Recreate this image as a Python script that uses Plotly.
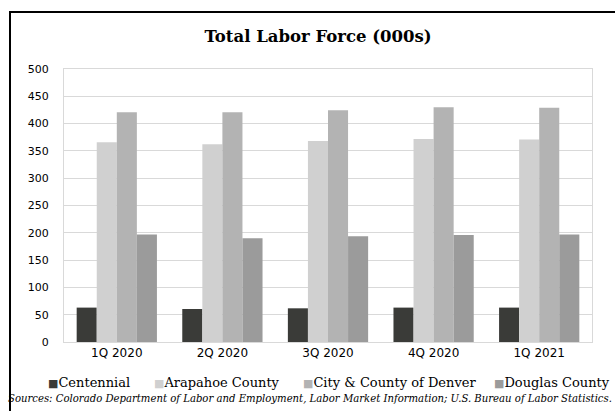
import plotly.graph_objects as go

quarters = ["1Q 2020", "2Q 2020", "3Q 2020", "4Q 2020", "1Q 2021"]
centennial = [63, 60.5, 61.7, 63, 63]
arapahoe = [365.7, 362, 368, 371.8, 370.7]
denver = [420.7, 420.7, 424.4, 430, 429]
douglas = [197, 190, 193.6, 196, 197]

names = ["Centennial", "Arapahoe County", "City & County of Denver", "Douglas County"]
colors = ["#3a3b38", "#d0d0d0", "#b3b3b3", "#9b9b9b"]
values = [centennial, arapahoe, denver, douglas]

fig = go.Figure()
for name, vals, color in zip(names, values, colors):
    fig.add_trace(go.Bar(x=quarters, y=vals, name=name, marker_color=color,
                         marker_line_width=0, showlegend=False))

W, H = 615, 411
ml, mr, mt, mb = 64, 23, 69, 69
pw = W - ml - mr
ph = H - mt - mb

def px_x(x):
    return (x - ml) / pw

def px_y(y):
    return (H - mb - y) / ph

serif = "DejaVu Serif"
sans = "DejaVu Sans"

legend_x = [46, 152, 301, 492]
annotations = []
for name, color, lx in zip(names, colors, legend_x):
    annotations.append(dict(
        text=f'<span style="color:{color};font-size:11px">■</span>{name}',
        xref="paper", yref="paper", x=px_x(lx), y=px_y(382),
        xanchor="left", yanchor="middle", showarrow=False,
        font=dict(family=serif, size=13, color="black")))

annotations.append(dict(
    text="<i>Sources: Colorado Department of Labor and Employment, Labor Market Information; U.S. Bureau of Labor Statistics.</i>",
    xref="paper", yref="paper", x=px_x(310), y=px_y(398), xanchor="center",
    yanchor="middle", showarrow=False,
    font=dict(family=serif, size=10.1, color="black")))

fig.update_layout(
    width=W, height=H,
    margin=dict(l=ml, r=mr, t=mt, b=mb),
    paper_bgcolor="white", plot_bgcolor="white",
    barmode="group", bargap=0.24, bargroupgap=0,
    showlegend=False,
    title=dict(text="<b>Total Labor Force (000s)</b>", xref="paper", x=px_x(318),
               xanchor="center", y=1 - 36 / H, yanchor="middle",
               font=dict(family=serif, size=16.5, color="black")),
    xaxis=dict(showgrid=False, showline=True, linecolor="#d9d9d9", linewidth=1,
               mirror=True, ticks="", tickfont=dict(family=sans, size=12, color="black")),
    yaxis=dict(range=[0, 500], dtick=50, showgrid=True, gridcolor="#d9d9d9",
               gridwidth=1, showline=True, linecolor="#d9d9d9", mirror=True,
               zeroline=False, ticks="", ticklabelstandoff=12,
               tickfont=dict(family=sans, size=11, color="black")),
    shapes=[
        dict(type="line", xref="paper", yref="paper", x0=px_x(9), x1=px_x(615),
             y0=px_y(12), y1=px_y(12), line=dict(color="black", width=2)),
        dict(type="line", xref="paper", yref="paper", x0=px_x(10), x1=px_x(10),
             y0=px_y(11), y1=px_y(411), line=dict(color="black", width=2)),
    ],
    annotations=annotations,
)

fig.write_html("out.html", config={"displayModeBar": False},
               post_script="document.body.style.margin='0';")
